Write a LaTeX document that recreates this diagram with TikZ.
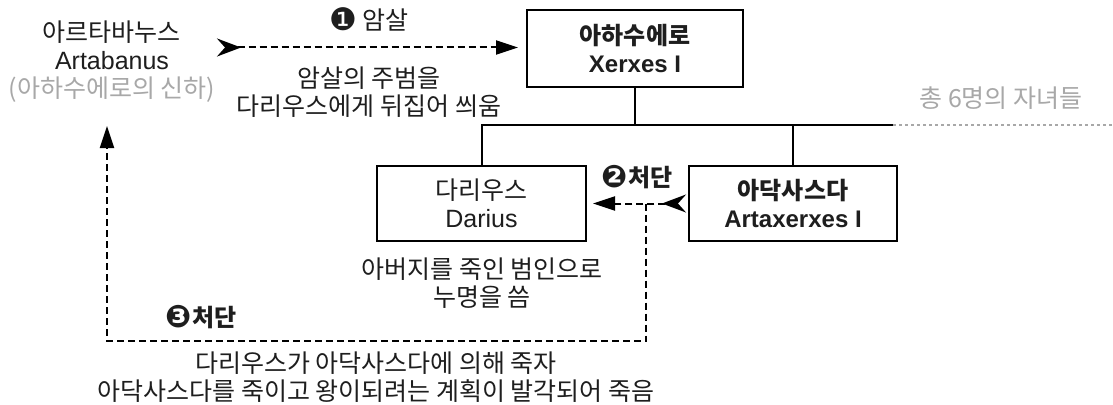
\documentclass[tikz,border=0pt]{standalone}
\usepackage{fontspec}
\setmainfont{Noto Sans CJK KR}
\newfontfamily\dvs{DejaVu Sans}
\newfontfamily\lat{Liberation Sans}
\usetikzlibrary{arrows.meta}
\definecolor{txt}{HTML}{1E1E1E}
\definecolor{lightg}{HTML}{A8A8A8}
\newcommand{\cnum}[1]{\raisebox{-1pt}[0pt][0pt]{\dvs\fontsize{31}{31}\selectfont #1}}
\tikzset{
  boxn/.style={draw=black, line width=2pt, align=center, inner sep=0pt, text=txt,
    font=\fontsize{25}{28}\selectfont},
  boldbox/.style={boxn, font=\fontsize{24}{28}\selectfont\bfseries},
  lbl/.style={align=center, inner sep=1pt, text=txt, font=\fontsize{25}{28}\selectfont},
  blbl/.style={lbl, font=\fontsize{24}{28}\selectfont\bfseries},
  glbl/.style={lbl, text=lightg},
  conn/.style={line width=2pt},
  dsh/.style={line width=2pt, dash pattern=on 7pt off 4pt},
  grydot/.style={line width=1.6pt, draw=lightg, dash pattern=on 3pt off 3pt},
  headtip/.style={-{Triangle[length=22pt, width=14pt]}},
  tailhead/.style={{Stealth[reversed, length=24pt, width=18pt, inset=8pt]}-{Triangle[length=22pt, width=14pt]}}
}
\begin{document}
\begin{tikzpicture}[x=1pt, y=-1pt]
\fill[white] (0,0) rectangle (1113,404);
\useasboundingbox (0,0) rectangle (1113,404);

% boxes
\node[boldbox, minimum width=216pt, minimum height=77pt] (xer) at (635,48.5) {아하수에로\\{\lat Xerxes I}};
\node[boxn, minimum width=209pt, minimum height=75pt] (dar) at (481.5,203.5) {다리우스\\{\lat Darius}};
\node[boldbox, minimum width=208pt, minimum height=75pt] (art) at (793,203.5) {아닥사스다\\{\lat Artaxerxes I}};

% Artabanus
\node[lbl] (arta) at (112,62) {아르타바누스\\{\lat Artabanus}\\\textcolor{lightg}{(아하수에로의 신하)}};

% family tree
\coordinate (busR) at (893,125);
\coordinate (busEnd) at (1113,125);
\draw[conn] (dar.north) -- (dar.north |- busR) -- (busR);
\draw[conn] (xer.south) -- (xer.south |- busR);
\draw[conn] (art.north) -- (art.north |- busR);
\draw[grydot] (busR) -- (busEnd);
\node[glbl] (kids) at (1001,98) {총 6명의 자녀들};

% arrow 1
\coordinate (t1) at (217,47.5);
\draw[dsh, tailhead, shorten >=8pt] (t1) -- (t1 -| xer.west);
\node[lbl] (l1) at (369,20) {\cnum{❶} 암살};
\node[lbl] (l1b) at (369,92) {암살의 주범을\\다리우스에게 뒤집어 씌움};

% arrow 2
\draw[dsh, tailhead, shorten >=6pt, shorten <=2pt] (art.west) -- (dar.east);
\node[blbl] (l2) at (637,178) {\cnum{❷}처단};
\node[lbl] (l2b) at (482,283) {아버지를 죽인 범인으로\\누명을 씀};

% arrow 3
\coordinate (j) at (646,203.5);
\coordinate (c3a) at (646,341);
\coordinate (c3b) at (107,341);
\coordinate (c3t) at (107,126);
\draw[dsh, headtip] (j) -- (c3a) -- (c3b) -- (c3t);
\node[blbl] (l3) at (201,318) {\cnum{❸}처단};
\node[lbl] (l3b) at (376,377) {다리우스가 아닥사스다에 의해 죽자\\아닥사스다를 죽이고 왕이되려는 계획이 발각되어 죽음};
\end{tikzpicture}
\end{document}
